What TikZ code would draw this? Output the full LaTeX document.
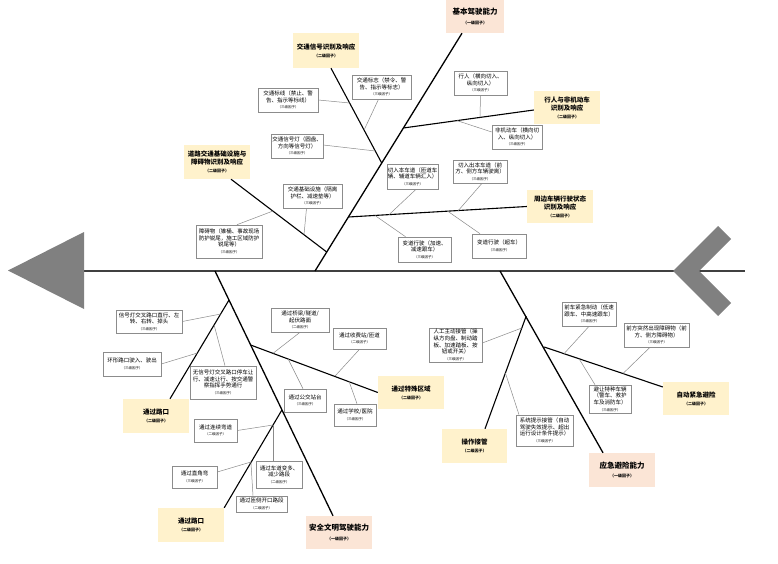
\documentclass[tikz,border=0pt]{standalone}
\usepackage{fontspec}
\setmainfont{Noto Sans CJK SC}
\usetikzlibrary{calc}
\definecolor{yellowbox}{HTML}{FFF2CC}
\definecolor{peachbox}{HTML}{FBE5D6}
\definecolor{boxgray}{HTML}{8C8C8C}
\definecolor{arrowgray}{HTML}{808080}
\definecolor{spinegray}{HTML}{404040}
\definecolor{thingray}{HTML}{8A8A8A}
\newcommand{\tlab}[1]{\\{\fontsize{3.5}{4.3}\selectfont #1}}
\newcommand{\slab}[1]{\\{\fontsize{4}{5}\selectfont #1}}
\begin{document}
\begin{tikzpicture}[x=1pt,y=-1pt,
  boxc/.style={draw=boxgray, line width=0.6pt, fill=white, inner sep=0pt, align=center, font=\fontsize{5.5}{6.6}\selectfont},
  boxb/.style={fill=yellowbox, inner sep=0pt, align=center, font=\bfseries\fontsize{6.5}{8}\selectfont},
  boxa/.style={fill=peachbox, inner sep=0pt, align=center, font=\bfseries\fontsize{7.5}{9.5}\selectfont},
  spine/.style={draw=spinegray, line width=1.5pt},
  bonea/.style={draw=black, line width=1.3pt},
  boneb/.style={draw=black, line width=1.1pt},
  bonec/.style={draw=thingray, line width=0.5pt}]
\useasboundingbox (0,0) rectangle (778,564);
\fill[white] (0,0) rectangle (778,564);

% spine and arrow shapes
\coordinate (spL) at (84,271);
\coordinate (spR) at (745,271);
\draw[spine] (spL) -- (spR);
\fill[arrowgray] (8,270.5) -- (84,232) -- (84,309) -- cycle;
\fill[arrowgray] (673,271) -- (718,226) -- (731,239) -- (699,271) -- (731,303) -- (718,316) -- cycle;

% level-1 boxes
\node[boxa, minimum width=58, minimum height=33] (P1) at (475,16.5) {基本驾驶能力\slab{（一级因子）}};
\node[boxa, minimum width=66, minimum height=33] (P2) at (339,532.5) {安全文明驾驶能力\slab{（一级因子）}};
\node[boxa, minimum width=66, minimum height=34] (P3) at (622,470) {应急避险能力\slab{（一级因子）}};

% level-2 boxes
\node[boxb, minimum width=66, minimum height=35] (S1) at (326,50.5) {交通信号识别及响应\slab{（二级因子）}};
\node[boxb, minimum width=66, minimum height=34] (S2) at (217,162) {道路交通基础设施与\\障碍物识别及响应\slab{（二级因子）}};
\node[boxb, minimum width=66, minimum height=33] (S3) at (567,107.5) {行人与非机动车\\识别及响应\slab{（二级因子）}};
\node[boxb, minimum width=66, minimum height=33] (S4) at (560,206.5) {周边车辆行驶状态\\识别及响应\slab{（二级因子）}};
\node[boxb, minimum width=66, minimum height=34] (S5) at (156,416) {通过路口\slab{（二级因子）}};
\node[boxb, minimum width=66, minimum height=33] (S6) at (411,392.5) {通过特殊区域\slab{（二级因子）}};
\node[boxb, minimum width=66, minimum height=34] (S7) at (191,525) {通过路口\slab{（二级因子）}};
\node[boxb, minimum width=65, minimum height=34] (S8) at (474.5,446) {操作接管\slab{（二级因子）}};
\node[boxb, minimum width=66, minimum height=33] (S9) at (696,398.5) {自动紧急避险\slab{（二级因子）}};

% level-3 boxes (top)
\node[boxc, minimum width=59, minimum height=24] (A) at (381.5,87) {交通标志（禁令、警\\告、指示等标志）\tlab{（三级因子）}};
\node[boxc, minimum width=60, minimum height=24] (B) at (288,100) {交通标线（禁止、警\\告、指示等标线）\tlab{（三级因子）}};
\node[boxc, minimum width=52, minimum height=24] (C) at (297,146) {交通信号灯（圆盘、\\方向等信号灯）\tlab{（三级因子）}};
\node[boxc, minimum width=59, minimum height=24] (D) at (312.5,196) {交通基础设施（隔离\\护栏、减速垫等）\tlab{（三级因子）}};
\node[boxc, minimum width=66, minimum height=33] (E) at (229,241.5) {障碍物（锥桶、事故现场\\防护锐尾，施工区域防护\\锐尾等）\tlab{（三级因子）}};
\node[boxc, minimum width=53, minimum height=24] (F) at (480.5,83) {行人（横向切入、\\纵向切入）\tlab{（三级因子）}};
\node[boxc, minimum width=50, minimum height=24] (G) at (517,137) {非机动车（横向切\\入、纵向切入）\tlab{（三级因子）}};
\node[boxc, minimum width=51, minimum height=25] (H) at (412.5,176.5) {切入本车道（匝道车\\辆、辅道车辆汇入）\tlab{（三级因子）}};
\node[boxc, minimum width=54, minimum height=23] (I) at (480,171.5) {切入出本车道（前\\方、侧方车辆驶离）\tlab{（三级因子）}};
\node[boxc, minimum width=53, minimum height=25] (J) at (424.5,249.5) {变道行驶（加速、\\减速跟车）\tlab{（三级因子）}};
\node[boxc, minimum width=54, minimum height=24] (K) at (499,246) {变道行驶（超车）\tlab{（三级因子）}};

% level-3 boxes (bottom)
\node[boxc, minimum width=66, minimum height=23] (L) at (149,321.5) {信号灯交叉路口直行、左\\转、右转、掉头\tlab{（三级因子）}};
\node[boxc, minimum width=58, minimum height=24] (M) at (132,364) {环形路口驶入、驶出\tlab{（三级因子）}};
\node[boxc, minimum width=66, minimum height=33] (N) at (223,382.5) {无信号灯交叉路口停车让\\行、减速让行、按交通警\\察指挥手势通行\tlab{（三级因子）}};
\node[boxc, minimum width=58, minimum height=24] (O) at (300,320) {通过桥梁/隧道/\\起伏路面\tlab{（二级因子）}};
\node[boxc, minimum width=53, minimum height=21] (Pq) at (359.5,338.5) {通过收费站/匝道\tlab{（二级因子）}};
\node[boxc, minimum width=42, minimum height=23] (Q) at (305,400.5) {通过公交站台\tlab{（三级因子）}};
\node[boxc, minimum width=42, minimum height=22] (R) at (355,415) {通过学校/医院\tlab{（三级因子）}};
\node[boxc, minimum width=43, minimum height=23] (Sq) at (215.5,430.5) {通过连续弯道\tlab{（二级因子）}};
\node[boxc, minimum width=46, minimum height=27] (T) at (279,474.5) {通过车道变多、\\减少路段\tlab{（二级因子）}};
\node[boxc, minimum width=45, minimum height=22] (U) at (194.5,477) {通过直角弯\tlab{（三级因子）}};
\node[boxc, minimum width=51, minimum height=16] (V) at (261.5,504) {通过匝侧开口路段\tlab{（二级因子）}};
\node[boxc, minimum width=53, minimum height=34] (W) at (455.5,345) {人工主动接管（操\\纵方向盘、制动踏\\板、加速踏板、按\\钮或开关）\tlab{（三级因子）}};
\node[boxc, minimum width=57, minimum height=31] (X) at (544.5,430.5) {系统提示接管（自动\\驾驶失效提示、超出\\运行设计条件提示）\tlab{（三级因子）}};
\node[boxc, minimum width=54, minimum height=24] (Y) at (589,314) {前车紧急制动（低速\\跟车、中高速跟车）\tlab{（三级因子）}};
\node[boxc, minimum width=65, minimum height=24] (Z) at (656.5,335) {前方突然出现障碍物（前\\方、侧方障碍物）\tlab{（三级因子）}};
\node[boxc, minimum width=42, minimum height=28] (AA) at (610,399) {避让特种车辆\\（警车、救护\\车及消防车）\tlab{（三级因子）}};

% junctions on the spine
\coordinate (m1) at (315,271);
\coordinate (m2) at (215,271);
\coordinate (m3) at (500,271);
% level-1 bones
\draw[bonea] (m1) -- ($(P1.south)+(-13,0)$);
\draw[bonea] (m2) -- ($(P2.north)+(-6,0)$);
\draw[bonea] (m3) -- ($(P3.north)+(-19,0)$);

% junctions of level-2 bones
\coordinate (jS1) at (381.7,163);
\coordinate (jS2) at (326.7,252);
\coordinate (jS3) at (403.3,128);
\coordinate (jS4) at (348.4,217);
\coordinate (jS5) at (229,300);
\coordinate (jS6) at (250.6,345);
\coordinate (jS7) at (281.9,410);
\coordinate (jS8) at (526.2,316);
\coordinate (jS9) at (544.2,347);
\draw[boneb] (jS1) -- ($(S1.south)+(5,0)$);
\draw[boneb] (jS2) -- ($(S2.south)+(14,0)$);
\draw[boneb] (jS3) -- ($(S3.west)+(0,2.5)$);
\draw[boneb] (jS4) -- (S4.west);
\draw[boneb] (jS5) -- ($(S5.north)+(14,0)$);
\draw[boneb] (jS6) -- (S6.west);
\draw[boneb] (jS7) -- (S7.north east);
\draw[boneb] (jS8) -- ($(S8.north)+(10.5,0)$);
\draw[boneb] (jS9) -- ($(S9.west)+(0,-11.5)$);

% junctions of level-3 bones
\coordinate (jA) at (364.1,130);
\coordinate (jB) at (349.7,103);
\coordinate (jC) at (375.3,151);
\coordinate (jD) at (304,234.7);
\coordinate (jE) at (273,211);
\coordinate (jF) at (480,117.4);
\coordinate (jG) at (457,120.6);
\coordinate (jH) at (389,214.7);
\coordinate (jI) at (458,210.9);
\coordinate (jJ) at (375,215.5);
\coordinate (jK) at (448,211.4);
\coordinate (jL) at (220.7,314);
\coordinate (jM) at (197.4,353);
\coordinate (jN) at (214.1,325);
\coordinate (jO) at (273,353.3);
\coordinate (jP) at (335,376.1);
\coordinate (jQ) at (288,358.8);
\coordinate (jR) at (349,381.3);
\coordinate (jST) at (273,425);
\coordinate (jUV) at (250.9,462);
\coordinate (jW) at (521.8,328);
\coordinate (jX) at (505.4,373);
\coordinate (jY) at (564,353.7);
\coordinate (jZ) at (623,373.5);
\coordinate (jAA) at (579,358.7);

\draw[bonec] (jA) -- ($(A.south)+(-3,0)$);
\draw[bonec] (jB) -- (B.east);
\draw[bonec] (jC) -- ($(C.east)+(0,-1)$);
\draw[bonec] (jD) -- ($(D.south)+(-6,0)$);
\draw[bonec] (jE) -- ($(E.north)+(8,0)$);
\draw[bonec] (jF) -- (F.south);
\draw[bonec] (jG) -- ($(G.west)+(0,-5)$);
\draw[bonec] (jH) -- ($(H.south)+(3.5,0)$);
\draw[bonec] (jI) -- ($(I.south)+(2,0)$);
\draw[bonec] (jJ) -- ($(J.north)+(-19,0)$);
\draw[bonec] (jK) -- ($(K.north)+(-19,0)$);
\draw[bonec] (jL) -- (L.east);
\draw[bonec] (jM) -- (M.east);
\draw[bonec] (jN) -- ($(N.north)+(2,0)$);
\draw[bonec] (jO) -- (O.south);
\draw[bonec] (jP) -- (Pq.south);
\draw[bonec] (jQ) -- ($(Q.north)+(-2,0)$);
\draw[bonec] (jR) -- ($(R.north)+(2,0)$);
\draw[bonec] (jST) -- (Sq.east);
\draw[bonec] (jST) -- ($(T.north)+(-6,0)$);
\draw[bonec] (jUV) -- ($(U.east)+(0,-5)$);
\draw[bonec] (jUV) -- ($(V.north)+(-8.5,0)$);
\draw[bonec] (jW) -- ($(W.east)+(0,-2)$);
\draw[bonec] (jX) -- ($(X.north)+(-25.5,0)$);
\draw[bonec] (jY) -- (Y.south);
\draw[bonec] (jZ) -- ($(Z.south)+(-6.5,0)$);
\draw[bonec] (jAA) -- ($(AA.north)+(-15,0)$);
\end{tikzpicture}
\end{document}
